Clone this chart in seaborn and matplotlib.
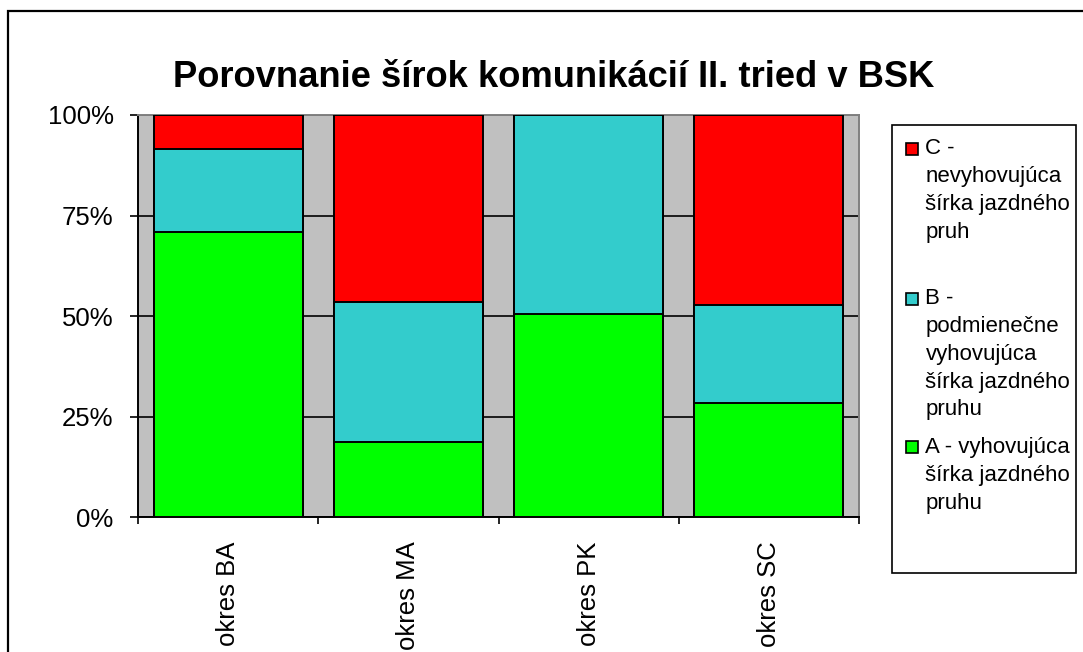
import matplotlib
matplotlib.use("Agg")
import matplotlib.pyplot as plt
import pandas as pd
import seaborn as sns
from matplotlib.patches import Patch, Rectangle
from matplotlib.legend_handler import HandlerPatch
from matplotlib.ticker import FixedLocator, PercentFormatter

# Road-width categories per district, in percent of road length
districts = ["okres BA", "okres MA", "okres PK", "okres SC"]
share_a = [71.0, 18.6, 50.5, 28.4]
share_b = [20.5, 34.9, 49.5, 24.3]
share_c = [8.5, 46.5, 0.0, 47.3]

title = "Porovnanie šírok komunikácií II. tried v BSK"
label_a = "A - vyhovujúca\nšírka jazdného\npruhu"
label_b = "B -\npodmienečne\nvyhovujúca\nšírka jazdného\npruhu"
label_c = "C -\nnevyhovujúca\nšírka jazdného\npruh\n"
y_ticks = [0, 25, 50, 75, 100]

color_a = "#00FF00"
color_b = "#33CCCC"
color_c = "#FF0000"
plot_bg = "#C0C0C0"

sns.set_theme(style="white")
plt.rcParams["font.family"] = ["Liberation Sans", "DejaVu Sans"]
plt.rcParams["text.color"] = "black"
plt.rcParams["xtick.color"] = "black"
plt.rcParams["ytick.color"] = "black"
plt.rcParams["xtick.labelcolor"] = "black"
plt.rcParams["ytick.labelcolor"] = "black"

W, H, DPI = 1083, 652, 100
fig = plt.figure(figsize=(W / DPI, H / DPI), dpi=DPI)


def px_box(x0, y0, x1, y1):
    return [x0 / W, 1 - y1 / H, (x1 - x0) / W, (y1 - y0) / H]


ax = fig.add_axes(px_box(138.3, 115, 858.7, 517.3))
ax.set_facecolor(plot_bg)

df = pd.DataFrame({"okres": districts, "A": share_a, "B": share_b, "C": share_c})
df["AB"] = df["A"] + df["B"]
df["ABC"] = df["AB"] + df["C"]

# stacked bars: draw cumulative totals back to front
for col, color in [("ABC", color_c), ("AB", color_b), ("A", color_a)]:
    sns.barplot(data=df, x="okres", y=col, color=color, saturation=1,
                width=0.826, edgecolor="black", linewidth=1.4,
                errorbar=None, ax=ax, zorder=3)

ax.set_xlim(-0.5, 3.5)
ax.set_ylim(0, 100)
ax.set_xlabel("")
ax.set_ylabel("")

ax.set_yticks(y_ticks)
ax.yaxis.set_major_formatter(PercentFormatter(decimals=0))
ax.tick_params(axis="y", which="major", direction="out", length=5.8, width=1.2,
               color="black", pad=12, labelsize=18.5, left=True)

ax.set_xticks(range(len(districts)))
ax.set_xticklabels(districts, rotation=90, va="top", ha="center")
ax.tick_params(axis="x", which="major", length=0, pad=17.6, labelsize=18.5)
ax.xaxis.set_minor_locator(FixedLocator([i - 0.5 for i in range(len(districts) + 1)]))
ax.tick_params(axis="x", which="minor", direction="out", length=5.0, width=1.2,
               color="black", bottom=True)

ax.set_axisbelow(True)
ax.yaxis.grid(True, color="black", linewidth=1.2)
ax.xaxis.grid(False)

for side in ["left", "bottom"]:
    ax.spines[side].set_color("black")
    ax.spines[side].set_linewidth(1.4)
for side in ["top", "right"]:
    ax.spines[side].set_color("#808080")
    ax.spines[side].set_linewidth(1.4)

fig.text(554 / W, 1 - 87.3 / H, title, ha="center", va="baseline",
         fontsize=26.2, fontweight="bold", color="black")

# legend: marker sits beside the first line of each label
LINE_PITCH_PT = 27 * 72 / DPI
SQUARE_PT = 12 * 72 / DPI


def first_line_square(legend, orig_handle, xdescent, ydescent, width, height, fontsize):
    n = orig_handle.get_label().count("\n") + 1
    shift = (n - 1) / 2 * LINE_PITCH_PT + 1.2
    cx = -xdescent + width / 2
    cy = -ydescent + height / 2 + shift
    return Rectangle((cx - SQUARE_PT / 2, cy - SQUARE_PT / 2), SQUARE_PT, SQUARE_PT)


handles = [Patch(facecolor=color_c, edgecolor="black", linewidth=1.2, label=label_c),
           Patch(facecolor=color_b, edgecolor="black", linewidth=1.2, label=label_b),
           Patch(facecolor=color_a, edgecolor="black", linewidth=1.2, label=label_a)]
leg = fig.legend(handles=handles, labels=[h.get_label() for h in handles],
                 loc="upper left", bbox_to_anchor=(905.7 / W, 1 - 138.4 / H),
                 frameon=False, fontsize=16, handlelength=0.55, handleheight=0.55,
                 handletextpad=0.34, labelspacing=0.765, borderpad=0, borderaxespad=0,
                 handler_map={Patch: HandlerPatch(patch_func=first_line_square)})
for t in leg.get_texts():
    t.set_linespacing(1.43)
    t.set_color("black")

fig.patches.append(Rectangle((891.7 / W, 1 - 573 / H), (1076 - 891.7) / W, (573 - 125) / H,
                             transform=fig.transFigure, fill=False,
                             edgecolor="black", linewidth=1.2))

# outer chart-area border
fig.patches.append(Rectangle((8 / W, -0.05), 1.1, (1 - 11 / H) + 0.05,
                             transform=fig.transFigure, fill=False,
                             edgecolor="black", linewidth=1.6, clip_on=False))

fig.savefig("out.png", dpi=DPI, facecolor="white")
